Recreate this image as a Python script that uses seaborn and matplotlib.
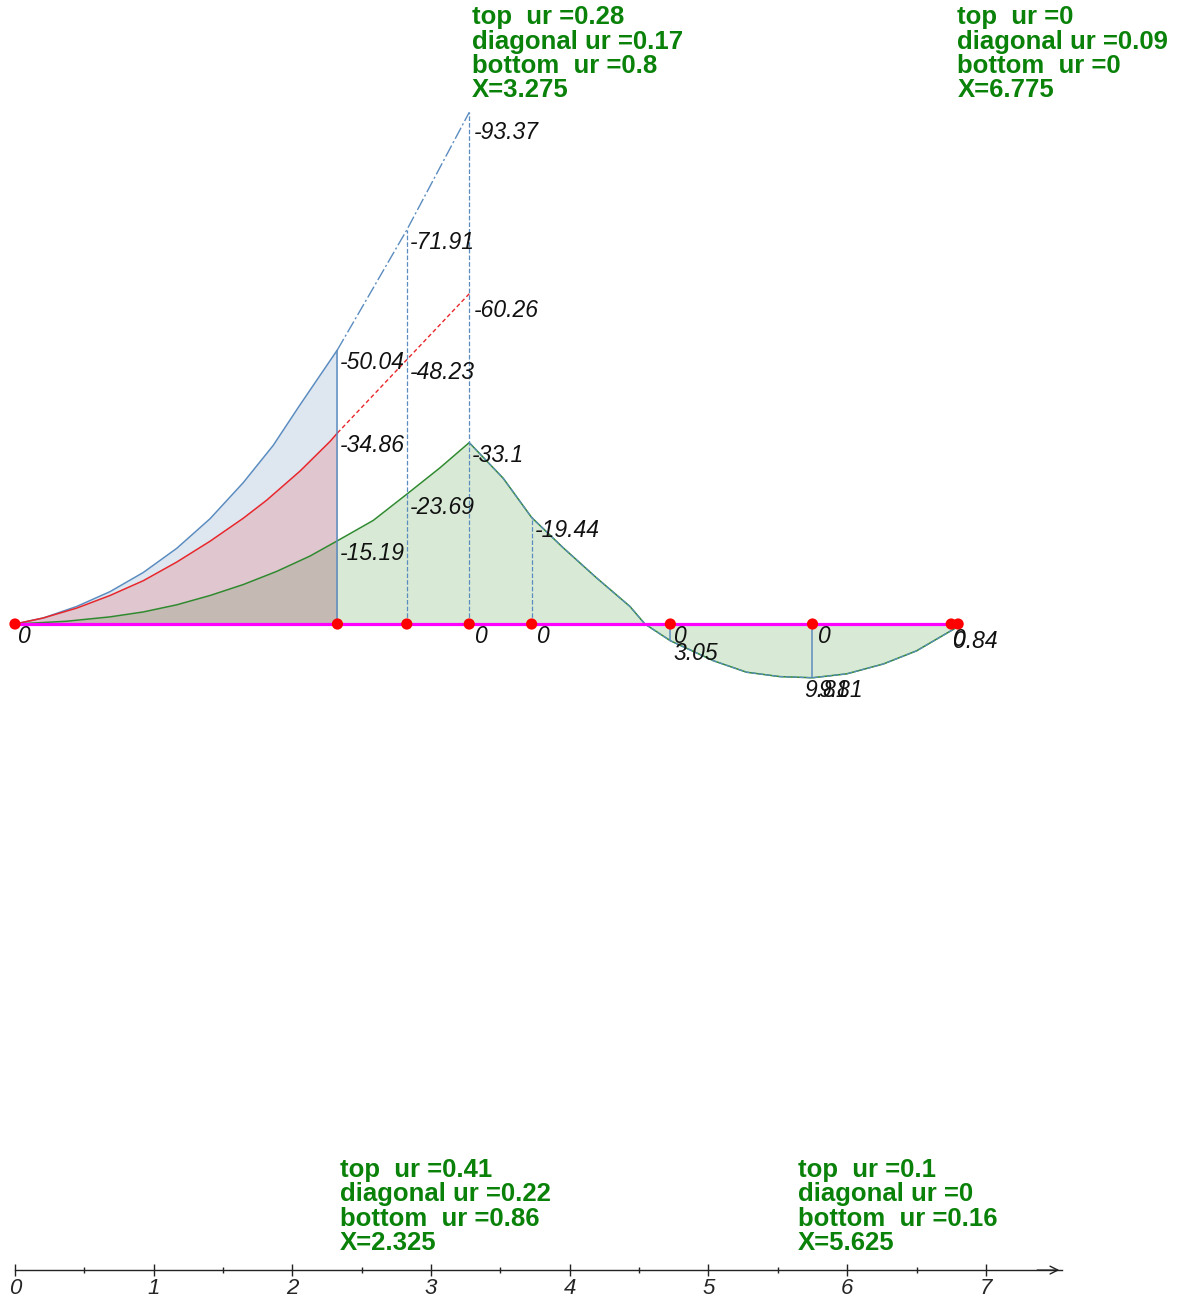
import matplotlib
matplotlib.use("Agg")
import matplotlib.pyplot as plt
import seaborn as sns

# ---- beam data (kN·m, negative = hogging, drawn upward) ----
# envelope curves over the cantilever part
x_top_left = [0, 0.204, 0.445, 0.685, 0.925, 1.166, 1.406, 1.646, 1.862, 2.05, 2.325]
m_top_left = [0, -1.1, -3.2, -5.9, -9.4, -13.8, -19.2, -25.8, -32.6, -39.8, -50.04]

x_mid_left = [0, 0.204, 0.445, 0.685, 0.925, 1.166, 1.406, 1.646, 1.815, 2.055, 2.271, 2.325]
m_mid_left = [0, -1.1, -2.9, -5.2, -7.9, -11.3, -15.1, -19.3, -22.6, -27.9, -33.3, -34.86]

x_bot_left = [0, 0.37, 0.685, 0.925, 1.166, 1.406, 1.646, 1.887, 2.127, 2.325]
m_bot_left = [0, -0.5, -1.3, -2.2, -3.5, -5.2, -7.2, -9.6, -12.4, -15.19]

# extrapolated top / middle envelopes beyond the first section
x_ext = [2.325, 2.825, 3.275]
m_top_ext = [-50.04, -71.91, -93.37]
m_mid_ext = [-34.86, -48.23, -60.26]

# governing moment diagram over the rest of the beam
x_gov = [2.325, 2.583, 2.825, 3.064, 3.275, 3.52, 3.725, 3.953, 4.194, 4.434,
         4.542, 4.725, 5.035, 5.275, 5.515, 5.75, 5.996, 6.26, 6.5, 6.775, 6.8]
m_gov = [-15.19, -18.9, -23.69, -28.5, -33.1, -26.6, -19.44, -13.9, -8.4, -3.2,
         0, 3.05, 6.7, 8.8, 9.6, 9.81, 9.1, 7.3, 4.9, 0.84, 0]

# design sections along the beam
stations = [0, 2.325, 2.825, 3.275, 3.725, 4.725, 5.75, 6.75, 6.8]

# ordinates drawn at sections
ord_x = [2.325, 2.825, 3.275, 3.725, 4.725, 5.75]
ord_v = [-50.04, -71.91, -93.37, -19.44, 3.05, 9.81]
ord_style = ["-", "--", "--", "--", "-", "-"]

# value labels
lab_x = [0, 2.325, 2.325, 2.325, 2.825, 2.825, 2.825, 3.275, 3.275, 3.275,
         3.275, 3.725, 3.725, 4.725, 4.725, 5.75, 5.75, 5.75, 6.775, 6.8]
lab_v = [0, -50.04, -34.86, -15.19, -71.91, -48.23, -23.69, -93.37, -60.26, -33.1,
         0, -19.44, 0, 0, 3.05, 0, 9.81, 9.81, 0.84, 0]
lab_dx = [2, 2, 2, 2, 2, 2, 2, 3, 3, 2,
          4, 2, 4, 3, 2, 4, -6, 4, -1, -4]
lab_dy = [-1, -1, -1, -1, -1, -1, -1, -6, -4, -1,
          -1, -1, -1, -1, -1, -1, -1, -1, -1, -3]

# section utilisation summaries
ur_x = [2.325, 3.275, 5.625, 6.775]
ur_top = [0.41, 0.28, 0.1, 0]
ur_diag = [0.22, 0.17, 0, 0.09]
ur_bot = [0.86, 0.8, 0.16, 0]
ur_at_top = [False, True, False, True]

# axis ticks
major_ticks = [0, 1, 2, 3, 4, 5, 6, 7]
minor_ticks = [0.5, 1.5, 2.5, 3.5, 4.5, 5.5, 6.5]

# ---- styling ----
sns.set_theme(style="white")
plt.rcParams["font.family"] = ["Liberation Sans", "DejaVu Sans"]

BLUE = "#5b8cc0"
BLUE_FILL = "#dee6f0"
RED = "#e8262b"
PINK_FILL = "#e0c6ce"
GREEN = "#2f8a2f"
BROWN_FILL = "#c4b9b3"
GREEN_FILL = "#d8ead5"
TXT_GREEN = "#0a820a"

fig = plt.figure(figsize=(11.91, 13.01), dpi=100)
ax = fig.add_axes([0, 0, 1, 1])
ax.set_xlim(-0.108, 8.479)
ax.set_ylim(123.54, -113.87)

# filled envelopes
ax.fill_between(x_top_left, m_top_left, 0, color=BLUE_FILL, lw=0, zorder=1)
ax.fill_between(x_mid_left, m_mid_left, 0, color=PINK_FILL, lw=0, zorder=2)
ax.fill_between(x_bot_left, m_bot_left, 0, color=BROWN_FILL, lw=0, zorder=3)
ax.fill_between(x_gov, m_gov, 0, color=GREEN_FILL, lw=0, zorder=3)

# curves
line_kw = dict(ax=ax, sort=False, estimator=None, zorder=5)
sns.lineplot(x=x_top_left, y=m_top_left, color=BLUE, lw=1.1, **line_kw)
sns.lineplot(x=x_mid_left, y=m_mid_left, color=RED, lw=1.1, **line_kw)
sns.lineplot(x=x_bot_left, y=m_bot_left, color=GREEN, lw=1.1, **line_kw)
sns.lineplot(x=x_ext, y=m_top_ext, color=BLUE, lw=1.0,
             linestyle=(0, (9, 2, 1.5, 2)), **line_kw)
sns.lineplot(x=x_ext, y=m_mid_ext, color=RED, lw=1.0,
             linestyle=(0, (3, 2)), **line_kw)
sns.lineplot(x=x_gov, y=m_gov, color=GREEN, lw=1.1, **line_kw)
peak = x_gov.index(3.275)
sns.lineplot(x=x_gov[peak:], y=m_gov[peak:], ax=ax, color=BLUE, lw=0.9, sort=False,
             estimator=None, zorder=6, linestyle=(0, (4, 1.5)))

# section ordinates
for xv, v, ls in zip(ord_x, ord_v, ord_style):
    ax.vlines(xv, 0, v, colors=BLUE, linestyles=ls, lw=1.1 if ls == "-" else 0.9,
              zorder=6)

# beam axis and sections
ax.plot([stations[0], stations[-1]], [0, 0], color="#ff00ff", lw=2.3, zorder=7)
sns.scatterplot(x=stations, y=[0] * len(stations), ax=ax, color="#ff0000", s=65,
                edgecolor="none", zorder=8)

# value labels
for xv, v, dx, dy in zip(lab_x, lab_v, lab_dx, lab_dy):
    ax.annotate(f"{v:g}", (xv, v), xytext=(dx, dy), textcoords="offset points",
                ha="left", va="top", fontsize=16.5, style="italic", color="#111111",
                zorder=9)

# utilisation summaries
for xv, t, d, b, top in zip(ur_x, ur_top, ur_diag, ur_bot, ur_at_top):
    txt = f"top  ur ={t:g}\ndiagonal ur ={d:g}\nbottom  ur ={b:g}\nX={xv:g}"
    yfrac = 0.996 if top else 0.110
    ax.annotate(txt, (xv, yfrac), xycoords=("data", "axes fraction"),
                xytext=(2, 0), textcoords="offset points", ha="left", va="top",
                fontsize=18.5, fontweight="bold", color=TXT_GREEN,
                linespacing=1.02, zorder=9)

# number line along the beam
for s in ["top", "left", "right"]:
    ax.spines[s].set_visible(False)
ax.spines["bottom"].set_position(("data", 117.9))
ax.spines["bottom"].set_bounds(0, 7.55)
ax.spines["bottom"].set_color("#222222")
ax.spines["bottom"].set_linewidth(1.0)
ax.set_yticks([])
ax.set_xticks(major_ticks)
ax.set_xticks(minor_ticks, minor=True)
ax.set_xticklabels([str(t) for t in major_ticks], fontsize=16, style="italic")
ax.tick_params(axis="x", which="major", direction="inout", length=9, width=1,
               color="#222222", pad=1, bottom=True)
ax.tick_params(axis="x", which="minor", direction="inout", length=5, width=1,
               color="#222222", bottom=True)
ax.annotate("", xy=(7.55, 117.9), xytext=(7.35, 117.9),
            arrowprops=dict(arrowstyle="->", color="#222222", lw=1.0,
                            mutation_scale=14))
ax.grid(False)
ax.set_facecolor("white")

fig.savefig("out.png", dpi=100, facecolor="white")
